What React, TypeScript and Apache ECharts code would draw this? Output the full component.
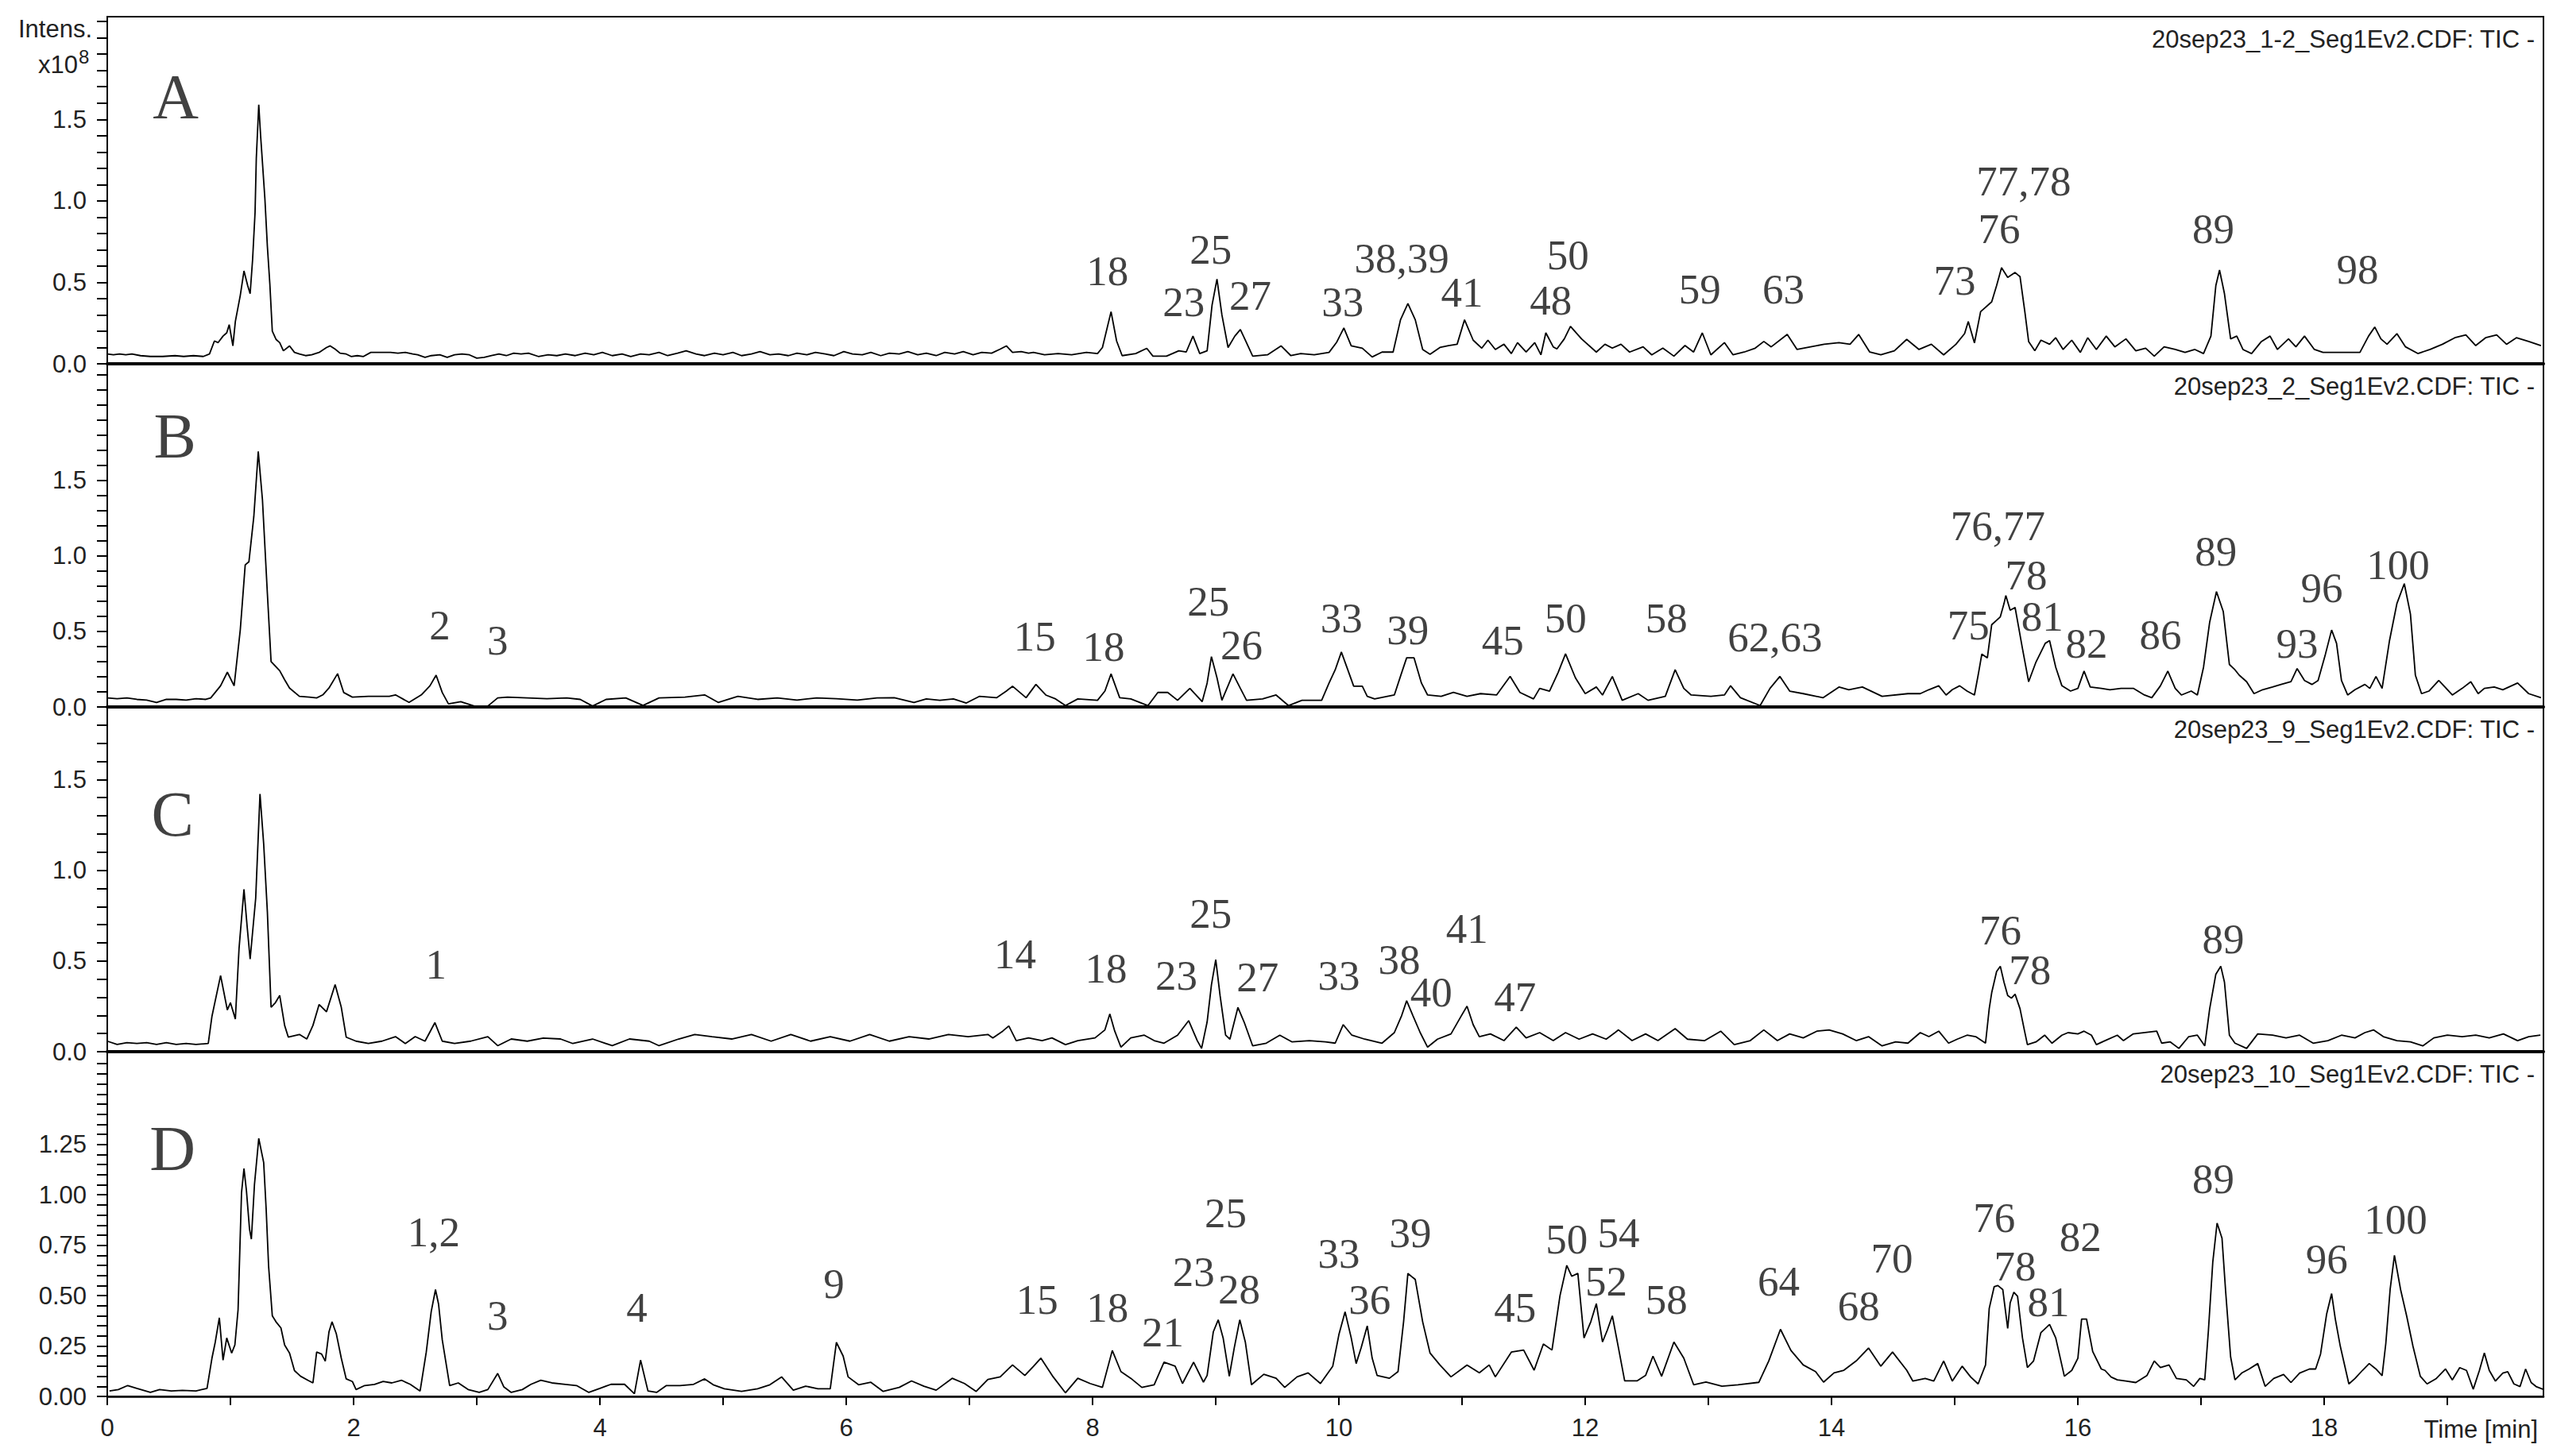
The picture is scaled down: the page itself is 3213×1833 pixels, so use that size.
import React, { useEffect, useRef } from "react";
import * as echarts from "echarts";

// ---------------- DATA (time in min, intensity in 1e8) ----------------
const traceA: [number, number][] = [
[0.00,0.06],[0.05,0.055],[0.10,0.06],[0.15,0.055],[0.20,0.06],[0.27,0.05],[0.35,0.045],[0.45,0.045],[0.55,0.05],[0.62,0.045],[0.70,0.05],[0.78,0.045],[0.83,0.06],[0.87,0.14],[0.90,0.13],[0.94,0.17],[0.97,0.19],[0.99,0.24],[1.02,0.11],[1.04,0.26],[1.08,0.42],[1.11,0.57],[1.14,0.48],[1.16,0.43],[1.18,0.64],[1.20,0.93],[1.21,1.26],[1.23,1.59],[1.245,1.40],[1.255,1.29],[1.28,1.01],[1.30,0.72],[1.32,0.49],[1.34,0.20],[1.37,0.15],[1.40,0.13],[1.43,0.08],[1.48,0.11],[1.52,0.07],[1.56,0.06],[1.61,0.05],[1.66,0.055],[1.72,0.07],[1.78,0.10],[1.81,0.11],[1.85,0.09],[1.89,0.065],[1.94,0.06],[1.98,0.045],[2.03,0.05],[2.08,0.045],[2.14,0.07],[2.24,0.07],[2.30,0.07],[2.36,0.065],[2.42,0.07],[2.48,0.06],[2.52,0.055],[2.58,0.04],[2.63,0.05],[2.70,0.055],[2.76,0.04],[2.82,0.055],[2.88,0.06],[2.94,0.055],[3.00,0.035],[3.06,0.04],[3.12,0.05],[3.18,0.06],[3.24,0.05],[3.30,0.065],[3.36,0.06],[3.42,0.065],[3.50,0.045],[3.58,0.055],[3.65,0.05],
[3.72,0.06],[3.80,0.05],[3.88,0.065],[3.95,0.055],[4.02,0.07],[4.10,0.05],[4.18,0.06],[4.25,0.045],[4.33,0.06],[4.40,0.055],[4.48,0.07],[4.55,0.05],[4.63,0.065],[4.70,0.08],[4.78,0.06],[4.85,0.05],[4.93,0.065],[5.00,0.055],[5.08,0.07],[5.15,0.05],[5.23,0.06],[5.30,0.075],[5.38,0.055],[5.45,0.06],[5.53,0.05],[5.60,0.065],[5.68,0.055],[5.75,0.07],[5.83,0.06],[5.90,0.05],[5.98,0.075],[6.05,0.06],[6.13,0.055],[6.20,0.07],[6.28,0.05],[6.35,0.065],[6.43,0.06],[6.50,0.075],[6.58,0.055],[6.65,0.065],[6.73,0.05],[6.80,0.07],[6.88,0.06],[6.95,0.075],[7.03,0.055],[7.10,0.07],[7.18,0.065],[7.25,0.09],[7.30,0.11],[7.35,0.07],[7.42,0.075],[7.48,0.065],
[7.52,0.07],[7.61,0.055],[7.72,0.063],[7.83,0.055],[7.95,0.07],[8.04,0.063],[8.08,0.10],[8.15,0.32],[8.195,0.14],[8.24,0.05],[8.35,0.063],[8.44,0.095],[8.49,0.047],[8.60,0.047],[8.70,0.08],[8.76,0.072],[8.815,0.17],[8.87,0.063],[8.93,0.08],[8.97,0.36],[9.01,0.52],[9.05,0.30],[9.10,0.10],[9.155,0.17],[9.20,0.21],[9.245,0.137],[9.30,0.047],[9.42,0.055],[9.53,0.11],[9.61,0.05],[9.69,0.063],[9.80,0.055],[9.92,0.07],[9.98,0.13],[10.04,0.22],[10.10,0.11],[10.19,0.096],[10.27,0.042],[10.35,0.072],[10.44,0.072],[10.50,0.27],[10.56,0.37],[10.62,0.27],[10.68,0.088],[10.74,0.059],[10.82,0.10],[10.89,0.112],[10.96,0.12],[11.02,0.27],[11.09,0.145],[11.16,0.096],[11.21,0.145],[11.27,0.088],[11.34,0.12],[11.40,0.063],[11.45,0.13],[11.52,0.072],[11.59,0.13],[11.64,0.055],[11.68,0.19],[11.74,0.104],[11.77,0.091],[11.83,0.153],[11.88,0.23],[11.97,0.153],[12.09,0.072],[12.16,0.12],[12.22,0.096],[12.29,0.12],[12.36,0.072],[12.47,0.104],[12.54,0.055],[12.63,0.096],[12.72,0.047],[12.81,0.112],[12.88,0.072],[12.95,0.19],[13.02,0.055],[13.13,0.13],[13.20,0.055],[13.29,0.072],[13.38,0.096],[13.45,0.137],[13.51,0.104],[13.64,0.18],[13.72,0.088],[13.83,0.104],[13.94,0.12],[14.06,0.13],[14.15,0.12],[14.22,0.18],[14.31,0.072],[14.40,0.055],[14.51,0.08],[14.61,0.15],
[14.71,0.088],[14.81,0.12],[14.91,0.055],[15.01,0.12],[15.08,0.185],[15.11,0.26],[15.16,0.128],[15.21,0.32],[15.30,0.38],[15.34,0.48],[15.38,0.59],[15.43,0.53],[15.49,0.56],[15.53,0.535],[15.57,0.315],[15.60,0.137],[15.65,0.08],[15.70,0.145],[15.77,0.12],[15.82,0.16],[15.88,0.088],[15.95,0.145],[16.02,0.07],[16.08,0.16],[16.15,0.088],[16.23,0.17],[16.30,0.104],[16.39,0.153],[16.47,0.08],[16.55,0.096],[16.62,0.047],[16.70,0.104],[16.79,0.088],[16.87,0.07],[16.95,0.088],[17.02,0.063],[17.08,0.17],[17.12,0.48],[17.15,0.575],[17.19,0.43],[17.24,0.153],[17.29,0.17],[17.34,0.088],[17.41,0.063],[17.49,0.137],[17.56,0.17],[17.62,0.088],[17.71,0.153],[17.77,0.104],[17.84,0.17],[17.92,0.088],[17.99,0.07],[18.16,0.07],[18.29,0.07],[18.36,0.17],[18.41,0.226],[18.46,0.153],[18.51,0.12],[18.59,0.185],[18.66,0.104],[18.76,0.063],[18.86,0.088],[18.96,0.12],[19.06,0.16],[19.15,0.177],[19.23,0.112],[19.31,0.16],[19.40,0.177],[19.48,0.12],[19.56,0.16],[19.66,0.137],[19.76,0.112]
];

const traceB: [number, number][] = [
[0.00,0.06],[0.08,0.055],[0.16,0.06],[0.24,0.05],[0.32,0.045],[0.40,0.03],[0.48,0.05],[0.56,0.05],[0.64,0.045],[0.72,0.055],[0.80,0.05],[0.84,0.06],[0.92,0.14],[0.975,0.23],[1.03,0.14],[1.08,0.51],[1.12,0.94],[1.15,0.96],[1.19,1.26],[1.226,1.69],[1.26,1.37],[1.30,0.75],[1.33,0.30],[1.365,0.27],[1.40,0.24],[1.44,0.18],[1.48,0.125],[1.56,0.07],[1.64,0.065],[1.70,0.06],[1.75,0.08],[1.80,0.125],[1.87,0.22],[1.92,0.095],[1.99,0.065],[2.12,0.07],[2.29,0.07],[2.34,0.08],[2.45,0.03],[2.55,0.08],[2.62,0.14],[2.67,0.21],[2.72,0.095],[2.77,0.02],[2.87,0.035],[2.98,0.006],[3.09,0.006],[3.17,0.06],[3.25,0.065],[3.41,0.06],[3.57,0.055],[3.73,0.06],[3.84,0.05],[3.94,0.006],[4.05,0.05],[4.21,0.06],[4.35,0.01],[4.48,0.06],[4.69,0.065],[4.85,0.08],[4.96,0.03],[5.12,0.07],[5.28,0.05],[5.44,0.06],[5.60,0.045],[5.76,0.06],[5.92,0.055],[6.09,0.045],
[6.25,0.06],[6.39,0.061],[6.55,0.03],[6.65,0.053],[6.76,0.044],[6.87,0.053],[6.975,0.026],[7.08,0.07],[7.22,0.061],[7.30,0.105],[7.35,0.137],[7.46,0.061],[7.54,0.149],[7.62,0.079],[7.70,0.053],[7.78,0.009],[7.88,0.053],[8.04,0.044],[8.10,0.105],[8.15,0.219],[8.22,0.061],[8.31,0.053],[8.45,0.009],[8.53,0.096],[8.61,0.096],[8.69,0.044],[8.79,0.123],[8.89,0.035],[8.93,0.158],[8.965,0.333],[9.01,0.193],[9.05,0.044],[9.14,0.219],[9.20,0.123],[9.25,0.044],[9.38,0.053],[9.49,0.079],[9.59,0.009],[9.70,0.044],[9.86,0.044],[9.92,0.158],[9.97,0.246],[10.02,0.363],[10.08,0.228],[10.12,0.137],[10.19,0.137],[10.23,0.07],[10.29,0.053],[10.45,0.079],[10.51,0.228],[10.55,0.325],[10.61,0.325],[10.67,0.158],[10.72,0.079],[10.83,0.07],[10.93,0.096],[11.04,0.07],[11.15,0.088],[11.28,0.079],[11.39,0.202],[11.47,0.096],[11.58,0.053],[11.63,0.123],[11.71,0.105],[11.78,0.228],[11.84,0.351],[11.92,0.193],[12.00,0.088],[12.09,0.132],[12.14,0.079],[12.22,0.202],[12.30,0.044],[12.43,0.088],[12.51,0.044],[12.65,0.07],[12.73,0.246],[12.80,0.123],[12.86,0.079],[13.02,0.07],[13.13,0.079],[13.18,0.14],[13.26,0.061],[13.42,0.009],[13.50,0.123],[13.58,0.202],[13.66,0.105],[13.77,0.088],[13.93,0.061],[14.06,0.132],[14.14,0.114],[14.25,0.132],[14.41,0.07],[14.62,0.088],
[14.72,0.088],[14.79,0.114],[14.87,0.14],[14.93,0.079],[14.98,0.114],[15.04,0.14],[15.10,0.105],[15.16,0.079],[15.19,0.21],[15.22,0.35],[15.265,0.325],[15.30,0.544],[15.37,0.596],[15.40,0.684],[15.415,0.737],[15.45,0.64],[15.49,0.658],[15.55,0.386],[15.60,0.167],[15.66,0.298],[15.735,0.421],[15.77,0.439],[15.82,0.263],[15.87,0.14],[15.94,0.105],[16.00,0.123],[16.05,0.237],[16.10,0.132],[16.19,0.123],[16.26,0.114],[16.35,0.123],[16.45,0.123],[16.54,0.079],[16.60,0.061],[16.67,0.14],[16.73,0.237],[16.79,0.123],[16.84,0.079],[16.92,0.105],[16.97,0.079],[17.02,0.263],[17.07,0.561],[17.125,0.763],[17.18,0.632],[17.23,0.281],[17.275,0.246],[17.31,0.21],[17.37,0.167],[17.43,0.088],[17.50,0.114],[17.58,0.132],[17.65,0.149],[17.73,0.167],[17.78,0.254],[17.84,0.175],[17.90,0.149],[17.95,0.175],[18.01,0.35],[18.06,0.509],[18.10,0.421],[18.14,0.175],[18.19,0.079],[18.25,0.114],[18.33,0.149],[18.37,0.123],[18.42,0.202],[18.47,0.123],[18.53,0.439],[18.59,0.684],[18.65,0.816],[18.70,0.614],[18.74,0.21],[18.79,0.088],[18.85,0.105],[18.93,0.175],[18.98,0.132],[19.04,0.079],[19.12,0.123],[19.19,0.167],[19.25,0.088],[19.30,0.123],[19.38,0.132],[19.45,0.114],[19.57,0.158],[19.66,0.088],[19.76,0.061]
];

const traceC: [number, number][] = [
[0.00,0.058],[0.08,0.04],[0.16,0.05],[0.24,0.045],[0.32,0.05],[0.40,0.04],[0.48,0.05],[0.56,0.04],[0.64,0.045],[0.72,0.04],[0.82,0.045],[0.85,0.195],[0.92,0.42],[0.975,0.23],[1.00,0.27],[1.04,0.18],[1.07,0.57],[1.11,0.895],[1.135,0.695],[1.16,0.51],[1.205,0.845],[1.24,1.42],[1.27,1.145],[1.30,0.77],[1.33,0.245],[1.365,0.27],[1.40,0.31],[1.44,0.145],[1.47,0.08],[1.56,0.095],[1.62,0.07],[1.67,0.145],[1.72,0.26],[1.78,0.22],[1.85,0.37],[1.90,0.245],[1.94,0.08],[2.02,0.058],[2.12,0.045],[2.23,0.058],[2.34,0.083],[2.42,0.045],[2.50,0.083],[2.58,0.058],[2.66,0.16],[2.72,0.058],[2.82,0.045],[2.95,0.058],[3.09,0.083],[3.17,0.033],[3.28,0.07],[3.41,0.058],[3.54,0.075],[3.68,0.07],[3.78,0.045],[3.94,0.07],[4.10,0.033],[4.24,0.07],[4.40,0.058],[4.48,0.033],[4.64,0.07],[4.77,0.095],[4.91,0.083],[5.07,0.07],[5.23,0.095],[5.39,0.058],[5.55,0.095],[5.71,0.058],[5.87,0.083],[6.03,0.058],[6.19,0.095],[6.35,0.058],[6.51,0.083],[6.67,0.07],[6.83,0.095],[6.99,0.083],[7.15,0.095],
[7.19,0.076],[7.27,0.113],[7.32,0.142],[7.38,0.061],[7.48,0.076],[7.59,0.061],[7.67,0.076],[7.78,0.039],[7.88,0.061],[8.02,0.076],[8.10,0.12],[8.14,0.208],[8.18,0.113],[8.23,0.025],[8.31,0.076],[8.42,0.091],[8.50,0.061],[8.58,0.047],[8.69,0.091],[8.78,0.171],[8.85,0.061],[8.885,0.018],[8.93,0.164],[8.965,0.368],[9.00,0.507],[9.035,0.31],[9.08,0.091],[9.115,0.069],[9.18,0.244],[9.23,0.164],[9.30,0.032],[9.41,0.047],[9.52,0.091],[9.62,0.054],[9.76,0.061],[9.89,0.054],[9.97,0.047],[10.035,0.149],[10.105,0.091],[10.21,0.069],[10.35,0.047],[10.45,0.105],[10.51,0.2],[10.55,0.281],[10.60,0.2],[10.66,0.105],[10.72,0.025],[10.80,0.069],[10.91,0.098],[10.99,0.193],[11.04,0.251],[11.09,0.149],[11.14,0.083],[11.23,0.098],[11.34,0.061],[11.44,0.135],[11.52,0.076],[11.63,0.105],[11.74,0.061],[11.84,0.105],[11.95,0.069],[12.06,0.098],[12.17,0.069],[12.27,0.12],[12.38,0.061],[12.49,0.098],[12.59,0.061],[12.73,0.127],[12.83,0.069],[12.97,0.061],[13.10,0.113],[13.21,0.039],[13.34,0.061],[13.45,0.12],[13.56,0.061],[13.66,0.098],[13.77,0.076],[13.88,0.113],[13.98,0.12],[14.09,0.098],[14.20,0.061],[14.30,0.083],[14.41,0.032],[14.52,0.054],[14.62,0.047],
[14.72,0.105],[14.79,0.083],[14.87,0.113],[14.95,0.047],[15.02,0.069],[15.10,0.091],[15.17,0.083],[15.25,0.047],[15.28,0.237],[15.30,0.325],[15.34,0.442],[15.37,0.471],[15.40,0.383],[15.43,0.31],[15.46,0.295],[15.49,0.317],[15.53,0.237],[15.565,0.12],[15.59,0.039],[15.66,0.054],[15.73,0.091],[15.79,0.047],[15.87,0.091],[15.92,0.105],[16.00,0.098],[16.05,0.113],[16.11,0.091],[16.15,0.039],[16.22,0.061],[16.32,0.091],[16.37,0.061],[16.45,0.098],[16.64,0.113],[16.68,0.047],[16.75,0.054],[16.82,0.018],[16.90,0.083],[16.97,0.091],[17.03,0.032],[17.07,0.237],[17.12,0.427],[17.16,0.471],[17.19,0.383],[17.23,0.091],[17.275,0.047],[17.37,0.018],[17.46,0.098],[17.58,0.091],[17.69,0.076],[17.80,0.091],[17.91,0.047],[18.03,0.061],[18.14,0.091],[18.25,0.076],[18.33,0.105],[18.40,0.12],[18.48,0.083],[18.59,0.061],[18.70,0.054],[18.80,0.032],[18.89,0.076],[19.00,0.091],[19.12,0.083],[19.23,0.091],[19.34,0.076],[19.455,0.098],[19.57,0.061],[19.66,0.083],[19.755,0.091]
];

const traceD: [number, number][] = [
[0.018,0.027],[0.09,0.034],[0.166,0.054],[0.24,0.04],[0.35,0.02],[0.425,0.034],[0.52,0.027],[0.61,0.03],[0.72,0.027],[0.81,0.04],[0.85,0.19],[0.877,0.27],[0.91,0.39],[0.94,0.18],[0.97,0.29],[1.01,0.215],[1.036,0.255],[1.062,0.43],[1.09,1.01],[1.11,1.13],[1.13,1.02],[1.155,0.83],[1.17,0.78],[1.195,1.05],[1.23,1.28],[1.27,1.16],[1.29,0.93],[1.31,0.645],[1.34,0.40],[1.37,0.37],[1.41,0.34],[1.44,0.255],[1.48,0.215],[1.52,0.128],[1.57,0.10],[1.63,0.08],[1.67,0.067],[1.70,0.22],[1.74,0.21],[1.77,0.175],[1.80,0.32],[1.825,0.37],[1.86,0.31],[1.90,0.19],[1.94,0.087],[1.99,0.074],[2.02,0.034],[2.09,0.054],[2.17,0.06],[2.24,0.074],[2.31,0.067],[2.39,0.08],[2.46,0.06],[2.54,0.027],[2.59,0.22],[2.63,0.42],[2.665,0.53],[2.69,0.457],[2.72,0.28],[2.78,0.054],[2.85,0.067],[2.93,0.034],[3.02,0.02],[3.09,0.034],[3.17,0.114],[3.22,0.047],[3.28,0.02],[3.37,0.034],[3.44,0.06],[3.52,0.08],[3.61,0.067],[3.72,0.06],[3.81,0.054],[3.91,0.02],[4.00,0.04],[4.09,0.06],[4.20,0.06],[4.28,0.013],[4.33,0.18],[4.39,0.027],[4.46,0.02],[4.54,0.054],[4.65,0.054],[4.76,0.06],[4.85,0.087],
[4.92,0.058],[5.01,0.038],[5.15,0.025],[5.28,0.038],[5.38,0.058],[5.475,0.097],[5.57,0.031],[5.67,0.051],[5.77,0.038],[5.87,0.038],[5.92,0.268],[5.975,0.20],[6.015,0.097],[6.10,0.058],[6.20,0.07],[6.30,0.025],[6.43,0.045],[6.53,0.077],[6.63,0.051],[6.73,0.031],[6.86,0.09],[6.96,0.064],[7.055,0.025],[7.15,0.084],[7.25,0.097],[7.35,0.156],[7.45,0.104],[7.52,0.149],[7.58,0.19],[7.68,0.097],[7.78,0.018],[7.88,0.09],[7.98,0.064],[8.08,0.045],[8.16,0.228],[8.23,0.123],[8.31,0.09],[8.40,0.045],[8.50,0.058],[8.58,0.17],[8.67,0.15],[8.73,0.064],[8.82,0.17],[8.90,0.071],[8.93,0.104],[8.98,0.32],[9.02,0.38],[9.06,0.29],[9.11,0.10],[9.15,0.24],[9.195,0.38],[9.24,0.27],[9.29,0.058],[9.39,0.11],[9.49,0.09],[9.56,0.045],[9.66,0.097],[9.75,0.117],[9.85,0.064],[9.95,0.15],[10.00,0.307],[10.05,0.42],[10.10,0.29],[10.14,0.163],[10.18,0.24],[10.23,0.35],[10.27,0.19],[10.31,0.104],[10.41,0.09],[10.48,0.123],[10.525,0.37],[10.56,0.61],[10.62,0.58],[10.68,0.37],[10.74,0.215],[10.82,0.156],[10.91,0.097],[11.04,0.156],[11.14,0.117],[11.22,0.156],[11.27,0.097],[11.40,0.22],[11.50,0.23],[11.585,0.13],[11.66,0.26],[11.73,0.23],[11.795,0.50],[11.85,0.65],[11.89,0.596],[11.94,0.61],[11.99,0.29],[12.045,0.37],[12.09,0.46],[12.14,0.27],[12.18,0.33],[12.22,0.40],[12.27,0.24],[12.32,0.077],[12.42,0.077],[12.49,0.104],[12.55,0.20],[12.62,0.10],[12.72,0.27],[12.80,0.19],[12.88,0.058],[12.98,0.071],[13.11,0.051],[13.24,0.058],[13.41,0.07],[13.49,0.176],[13.585,0.333],[13.67,0.228],[13.77,0.156],[13.87,0.123],[13.935,0.071],[14.02,0.117],[14.10,0.13],[14.20,0.176],[14.30,0.24],[14.40,0.15],[14.495,0.22],
[14.61,0.13],[14.66,0.076],[14.76,0.089],[14.83,0.076],[14.91,0.176],[14.98,0.076],[15.06,0.15],[15.13,0.096],[15.19,0.062],[15.25,0.156],[15.28,0.437],[15.32,0.544],[15.35,0.55],[15.39,0.53],[15.43,0.337],[15.45,0.464],[15.48,0.517],[15.51,0.497],[15.55,0.29],[15.59,0.143],[15.64,0.176],[15.70,0.317],[15.77,0.357],[15.82,0.29],[15.89,0.10],[15.95,0.129],[16.00,0.19],[16.03,0.384],[16.07,0.384],[16.12,0.223],[16.19,0.136],[16.22,0.129],[16.27,0.096],[16.32,0.082],[16.39,0.076],[16.47,0.069],[16.56,0.103],[16.62,0.176],[16.67,0.143],[16.74,0.156],[16.80,0.089],[16.88,0.082],[16.94,0.05],[16.99,0.089],[17.03,0.082],[17.06,0.33],[17.095,0.665],[17.13,0.86],[17.17,0.785],[17.20,0.517],[17.24,0.196],[17.275,0.082],[17.33,0.116],[17.39,0.136],[17.46,0.163],[17.52,0.05],[17.59,0.089],[17.67,0.109],[17.73,0.069],[17.80,0.116],[17.88,0.136],[17.93,0.136],[17.97,0.21],[18.02,0.41],[18.06,0.51],[18.09,0.384],[18.13,0.25],[18.20,0.062],[18.25,0.089],[18.31,0.129],[18.365,0.163],[18.42,0.136],[18.47,0.103],[18.50,0.263],[18.535,0.53],[18.57,0.70],[18.62,0.53],[18.67,0.397],[18.72,0.25],[18.78,0.10],[18.835,0.062],[18.91,0.089],[18.985,0.136],[19.04,0.082],[19.10,0.143],[19.155,0.129],[19.21,0.036],[19.26,0.129],[19.30,0.216],[19.34,0.129],[19.39,0.076],[19.45,0.116],[19.49,0.123],[19.54,0.062],[19.59,0.049],[19.635,0.136],[19.68,0.069],[19.72,0.049],[19.775,0.036]
];

// peak labels: [time, intensity, text]
const labelsA: [number, number, string][] = [
[8.12,0.57,"18"],[8.74,0.38,"23"],[8.96,0.70,"25"],[9.28,0.42,"27"],[10.03,0.38,"33"],[10.51,0.65,"38,39"],[11.0,0.44,"41"],[11.72,0.39,"48"],[11.86,0.67,"50"],[12.93,0.46,"59"],[13.61,0.46,"63"],[15.0,0.51,"73"],[15.36,0.83,"76"],[15.56,1.12,"77,78"],[17.1,0.83,"89"],[18.27,0.58,"98"]
];
const labelsB: [number, number, string][] = [
[2.70,0.54,"2"],[3.17,0.44,"3"],[7.53,0.47,"15"],[8.09,0.40,"18"],[8.94,0.70,"25"],[9.21,0.41,"26"],[10.02,0.59,"33"],[10.56,0.51,"39"],[11.33,0.44,"45"],[11.84,0.59,"50"],[12.66,0.59,"58"],[13.54,0.46,"62,63"],[15.11,0.54,"75"],[15.35,1.20,"76,77"],[15.58,0.87,"78"],[15.71,0.60,"81"],[16.07,0.42,"82"],[16.67,0.48,"86"],[17.12,1.03,"89"],[17.78,0.42,"93"],[17.98,0.79,"96"],[18.6,0.94,"100"]
];
const labelsC: [number, number, string][] = [
[2.67,0.48,"1"],[7.37,0.54,"14"],[8.11,0.46,"18"],[8.68,0.42,"23"],[8.96,0.76,"25"],[9.34,0.41,"27"],[10.0,0.42,"33"],[10.49,0.51,"38"],[10.75,0.33,"40"],[11.04,0.68,"41"],[11.43,0.30,"47"],[15.37,0.67,"76"],[15.61,0.45,"78"],[17.18,0.62,"89"]
];
const labelsD: [number, number, string][] = [
[2.65,0.815,"1,2"],[3.17,0.40,"3"],[4.30,0.44,"4"],[5.90,0.56,"9"],[7.55,0.48,"15"],[8.12,0.44,"18"],[8.57,0.32,"21"],[8.82,0.62,"23"],[9.08,0.91,"25"],[9.19,0.53,"28"],[10.0,0.71,"33"],[10.25,0.48,"36"],[10.58,0.81,"39"],[11.43,0.44,"45"],[11.85,0.78,"50"],[12.27,0.81,"54"],[12.17,0.57,"52"],[12.66,0.48,"58"],[13.57,0.57,"64"],[14.22,0.45,"68"],[14.49,0.685,"70"],[15.32,0.885,"76"],[15.49,0.645,"78"],[15.76,0.47,"81"],[16.02,0.79,"82"],[17.1,1.08,"89"],[18.02,0.68,"96"],[18.58,0.88,"100"]
];

const panelLetters: [number, number, string][] = [[0.555,1.64,"A"],[0.55,1.79,"B"],[0.53,1.31,"C"],[0.53,1.23,"D"]];
const fileNames = ["20sep23_1-2_Seg1Ev2.CDF: TIC -","20sep23_2_Seg1Ev2.CDF: TIC -","20sep23_9_Seg1Ev2.CDF: TIC -","20sep23_10_Seg1Ev2.CDF: TIC -"];

const yMaxes = [2.13, 2.27, 1.90, 1.71];
const yTicksA = [0,0.1,0.2,0.3,0.4,0.5,0.6,0.7,0.8,0.9,1.0,1.1,1.2,1.3,1.4,1.5,1.6,1.7,1.8,1.9,2.0,2.1];
const yTicksB = [0,0.1,0.2,0.3,0.4,0.5,0.6,0.7,0.8,0.9,1.0,1.1,1.2,1.3,1.4,1.5,1.6,1.7,1.8,1.9,2.0,2.1,2.2];
const yTicksC = [0,0.1,0.2,0.3,0.4,0.5,0.6,0.7,0.8,0.9,1.0,1.1,1.2,1.3,1.4,1.5,1.6,1.7,1.8];
const yTicksD = [0,0.05,0.1,0.15,0.2,0.25,0.3,0.35,0.4,0.45,0.5,0.55,0.6,0.65,0.7,0.75,0.8,0.85,0.9,0.95,1.0,1.05,1.1,1.15,1.2,1.25,1.3,1.35,1.4,1.45,1.5,1.55,1.6,1.65];
const yLabels3 = [0, 0.5, 1.0, 1.5];
const yLabelsD = [0, 0.25, 0.5, 0.75, 1.0, 1.25];
const xTicks = [0,1,2,3,4,5,6,7,8,9,10,11,12,13,14,15,16,17,18,19];
const xLabels = [0,2,4,6,8,10,12,14,16,18];
const xMax = 19.78;

// ---------------- LAYOUT ----------------
const W = 3213, H = 1833;
const LEFT = 135, RIGHT = 12;
const tops = [21, 458, 890, 1324];
const heights = [437, 432, 434, 434];
const SANS = '"Liberation Sans", Arial, sans-serif';
const SERIF = '"Liberation Serif", "Times New Roman", serif';

export default function App() {
  const ref = useRef<HTMLDivElement>(null);
  useEffect(() => {
    if (!ref.current) return;
    const chart = echarts.init(ref.current, null, { renderer: "svg" });
    const traces = [traceA, traceB, traceC, traceD];
    const labels = [labelsA, labelsB, labelsC, labelsD];
    const yTicks = [yTicksA, yTicksB, yTicksC, yTicksD];
    const grids = tops.map((t, i) => ({
      left: LEFT, right: RIGHT, top: t, height: heights[i],
      show: true, borderColor: "#000", borderWidth: 2, backgroundColor: "transparent",
    }));
    const xAxes = tops.map((_, i) => ({
      type: "value", gridIndex: i, min: 0, max: xMax, interval: 1,
      axisLine: { show: true, onZero: false, lineStyle: { color: "#000", width: i < 3 ? 4 : 2.5 } },
      axisTick: { show: i === 3, customValues: xTicks, length: 11, lineStyle: { color: "#000", width: 2 } },
      axisLabel: {
        show: i === 3, customValues: xLabels, fontSize: 31, fontFamily: SANS, color: "#222", margin: 24,
        formatter: (v: number) => String(Math.round(v)),
      },
      splitLine: { show: false },
    }));
    const yAxes = tops.map((_, i) => ({
      type: "value", gridIndex: i, min: 0, max: yMaxes[i], interval: i === 3 ? 0.05 : 0.1,
      axisLine: { show: true, lineStyle: { color: "#000", width: 2 } },
      axisTick: { show: true, customValues: yTicks[i], length: 13, lineStyle: { color: "#000", width: 2 } },
      axisLabel: {
        show: true, customValues: i === 3 ? yLabelsD : yLabels3, fontSize: 31, fontFamily: SANS, color: "#222", margin: 26,
        formatter: (v: number) => (i === 3 ? v.toFixed(2) : v.toFixed(1)),
      },
      splitLine: { show: false },
    }));
    const series: any[] = [];
    traces.forEach((tr, i) => {
      series.push({
        type: "line", xAxisIndex: i, yAxisIndex: i, data: tr, showSymbol: false, symbol: "none",
        lineStyle: { color: "#000", width: 1.8 }, silent: true, clip: true, z: 3,
      });
      const items: any[] = labels[i].map((l) => ({ value: [l[0], l[1]], name: l[2] }));
      const L = panelLetters[i];
      items.push({ value: [L[0], L[1]], name: L[2], label: { fontSize: 80 } });
      series.push({
        type: "scatter", xAxisIndex: i, yAxisIndex: i, data: items, symbolSize: 1,
        itemStyle: { color: "rgba(0,0,0,0)" }, silent: true, z: 4,
        label: {
          show: true, position: "inside", formatter: (p: any) => p.name,
          fontFamily: SERIF, fontSize: 53, color: "#111",
        },
      });
    });
    const graphic: any[] = [];
    fileNames.forEach((f, i) => {
      graphic.push({
        type: "text", x: 3190, y: tops[i] + 28, silent: true,
        style: { text: f, fill: "#222", font: `31px ${SANS}`, align: "right", textAlign: "right", verticalAlign: "middle", textVerticalAlign: "middle" },
      });
    });
    graphic.push({ type: "text", x: 116, y: 36, silent: true,
      style: { text: "Intens.", fill: "#222", font: `31px ${SANS}`, align: "right", textAlign: "right", verticalAlign: "middle", textVerticalAlign: "middle" } });
    graphic.push({ type: "text", x: 98, y: 81, silent: true,
      style: { text: "x10", fill: "#222", font: `31px ${SANS}`, align: "right", textAlign: "right", verticalAlign: "middle", textVerticalAlign: "middle" } });
    graphic.push({ type: "text", x: 99, y: 71, silent: true,
      style: { text: "8", fill: "#222", font: `24px ${SANS}`, align: "left", textAlign: "left", verticalAlign: "middle", textVerticalAlign: "middle" } });
    graphic.push({ type: "text", x: 3194, y: 1799, silent: true,
      style: { text: "Time [min]", fill: "#222", font: `31px ${SANS}`, align: "right", textAlign: "right", verticalAlign: "middle", textVerticalAlign: "middle" } });

    chart.setOption({
      animation: false,
      backgroundColor: "#fff",
      grid: grids,
      xAxis: xAxes,
      yAxis: yAxes,
      series,
      graphic,
    });
    return () => chart.dispose();
  }, []);
  return <div ref={ref} style={{ position: "absolute", left: 0, top: 0, width: W, height: H, background: "#fff" }} />;
}
